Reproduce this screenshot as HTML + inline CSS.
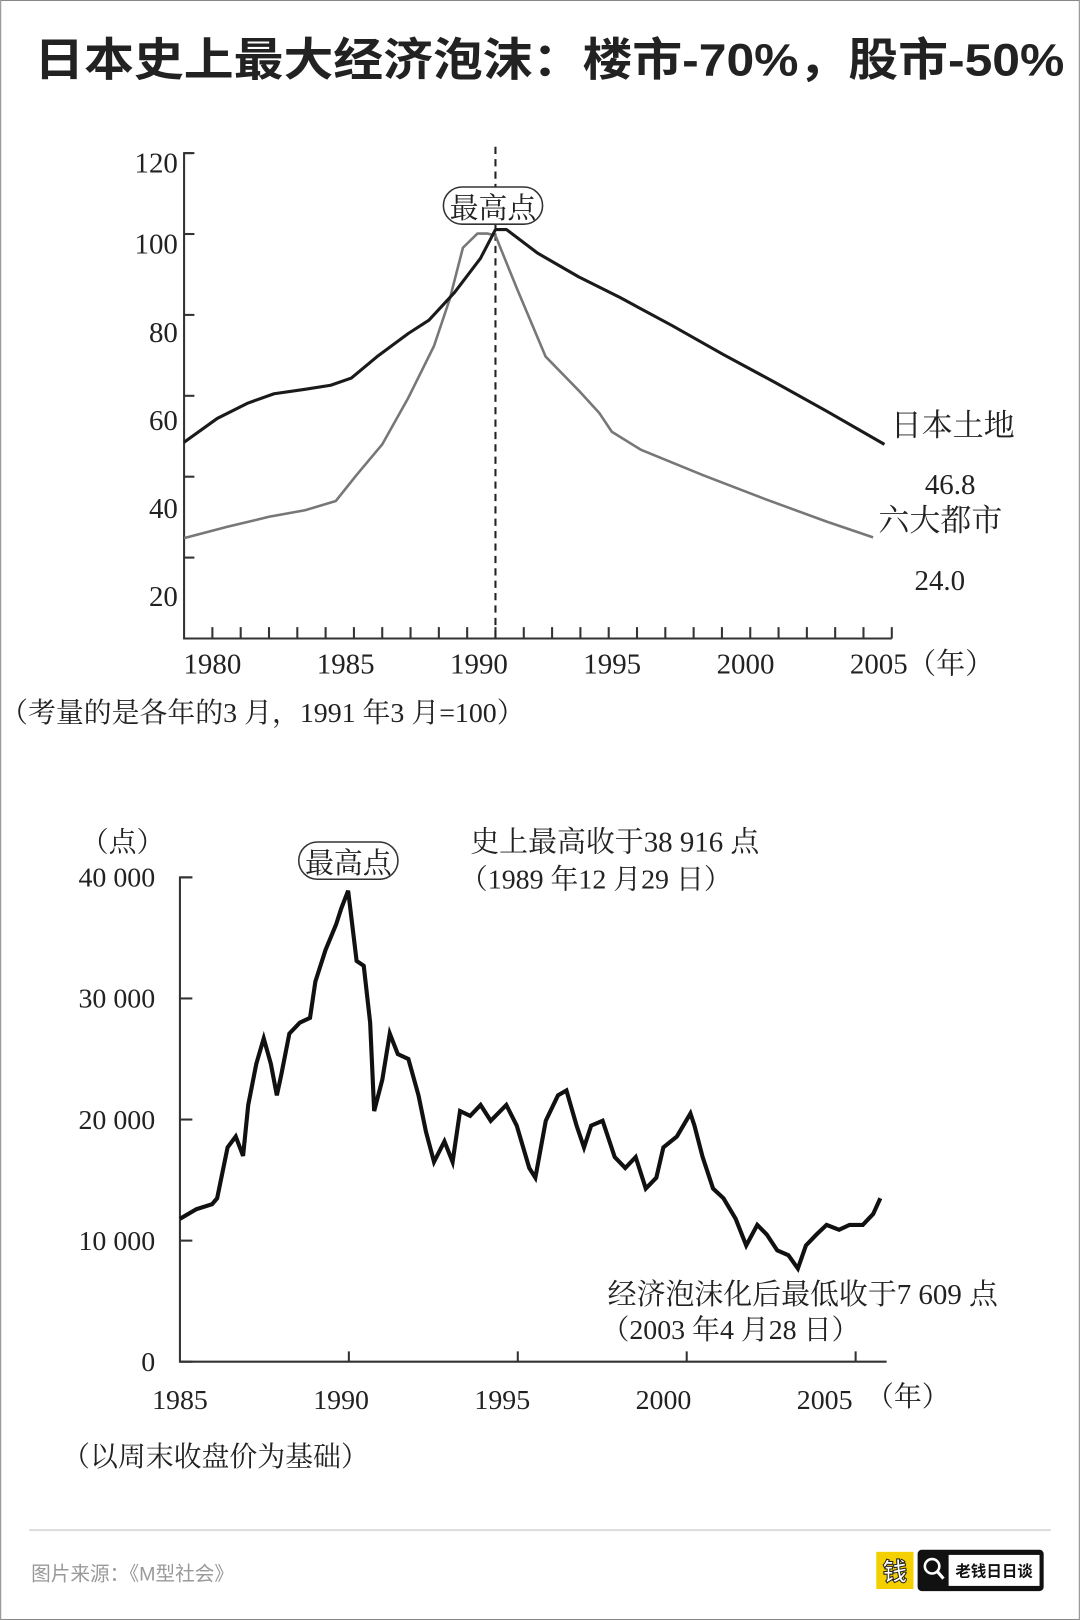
<!DOCTYPE html>
<html><head><meta charset="utf-8"><style>
html,body{margin:0;padding:0;background:#fff;}
svg{display:block;}
.serif{font-family:"Liberation Serif","Noto Serif CJK SC",serif;fill:#222;}
.sans{font-family:"Liberation Sans","Noto Sans CJK SC",sans-serif;}
</style></head><body>
<svg id="root" width="1080" height="1620" viewBox="0 0 1045 1568" xmlns="http://www.w3.org/2000/svg">
<rect x="0.5" y="0.5" width="1044" height="1567" fill="#fff" stroke="#888"/>
<text x="33" y="73" class="sans" font-size="44" font-weight="bold" fill="#222" textLength="997" lengthAdjust="spacingAndGlyphs">日本史上最大经济泡沫：楼市-70%，股市-50%</text>

<g id="topchart"></g>
<g id="botchart"></g>

<line x1="28" y1="1481" x2="1017" y2="1481" stroke="#ddd" stroke-width="2"/>
<text x="30" y="1530" class="sans" font-size="19" fill="#999">图片来源：《M型社会》</text>
<g>
<rect x="848" y="1502" width="36" height="36" fill="#f5d000"/>
<text x="866" y="1530" text-anchor="middle" class="sans" font-size="24" font-weight="bold" fill="#fff" stroke="#222" stroke-width="1">钱</text>
<rect x="888" y="1500" width="122" height="40" rx="4" fill="#111"/>
<circle cx="902" cy="1516" r="7" fill="none" stroke="#fff" stroke-width="2.5"/>
<line x1="907" y1="1521" x2="913" y2="1528" stroke="#fff" stroke-width="3"/>
<rect x="918" y="1505" width="88" height="30" fill="#fff"/>
<text x="962" y="1526" text-anchor="middle" class="sans" font-size="15" font-weight="bold" fill="#111">老钱日日谈</text>
</g>
</svg>
<script>
const NS="http://www.w3.org/2000/svg";
// ---- Top chart data ----
const landYears=[1979,1980.17,1981.26,1982.18,1983.27,1984.18,1984.91,1985.82,1986.92,1987.65,1988.56,1989.47,1990,1990.39,1991.48,1992.94,1994.4,1996.23,1998.05,1999.88,2001.7,2003.74];
const landValues=[48.5,54.4,58.2,60.5,61.6,62.6,64.4,69.7,75.4,78.7,85.6,94.0,101.1,101.1,95.3,89.4,84.3,77.4,70.2,63.3,56.2,48.0];
const cityYears=[1979,1980.53,1982.0,1983.27,1984.36,1985.09,1986.0,1986.92,1987.83,1988.38,1988.85,1989.36,1989.73,1990,1990.77,1991.77,1992.94,1993.67,1994.11,1995.13,1997.32,1999.51,2001.7,2003.34];
const cityValues=[24.8,27.6,30.1,31.7,34.0,40.4,48.0,59.5,72.3,83.8,96.6,100.1,100.1,99.6,86.3,69.7,61.3,55.7,51.1,46.7,40.4,34.5,28.9,25.0];
const topYTicks=[20,40,60,80,100,120];
const topXLabels=[1980,1985,1990,1995,2000,2005];
// ---- Bottom chart data ----
const nkYears=[1985.00,1985.49,1985.95,1986.10,1986.41,1986.65,1986.87,1987.02,1987.26,1987.48,1987.69,1987.87,1988.00,1988.24,1988.55,1988.85,1989.01,1989.31,1989.62,1989.77,1989.98,1990.23,1990.44,1990.63,1990.75,1990.99,1991.21,1991.45,1991.76,1992.06,1992.28,1992.52,1992.83,1993.07,1993.29,1993.59,1993.90,1994.20,1994.66,1994.97,1995.34,1995.52,1995.83,1996.19,1996.44,1996.74,1996.96,1997.17,1997.51,1997.87,1998.18,1998.49,1998.79,1999.10,1999.31,1999.71,2000.11,2000.23,2000.47,2000.78,2001.09,2001.45,2001.76,2002.09,2002.37,2002.68,2003.01,2003.29,2003.53,2003.84,2004.14,2004.51,2004.82,2005.21,2005.52,2005.73];
const nkValues=[11.8,12.6,13.0,13.5,17.7,18.6,17.0,21.2,24.6,26.7,24.6,22.0,23.7,27.1,28.0,28.4,31.4,34.0,36.1,37.4,38.9,33.1,32.7,28.0,20.7,23.3,27.1,25.4,25.0,22.0,19.0,16.5,18.2,16.5,20.7,20.3,21.2,19.9,21.2,19.5,16.0,15.2,19.9,22.0,22.4,19.5,17.7,19.5,19.9,16.9,16.0,16.9,14.3,15.2,17.7,18.6,20.5,19.5,16.9,14.3,13.5,11.8,9.6,11.3,10.5,9.2,8.8,7.7,9.6,10.5,11.3,10.9,11.3,11.3,12.2,13.5];
const botYTicks=[0,10,20,30,40];
const botYLabels=["0","10 000","20 000","30 000","40 000"];
const botXLabels=[1985,1990,1995,2000,2005];

function el(tag,attrs,parent,txt){const e=document.createElementNS(NS,tag);for(const k in attrs)e.setAttribute(k,attrs[k]);if(txt!==undefined)e.textContent=txt;parent.appendChild(e);return e;}
function poly(xs,vs,fx,fy){return xs.map((x,i)=>(i?'L':'M')+fx(x).toFixed(1)+' '+fy(vs[i]).toFixed(1)).join(' ');}

// Top chart
const topG=document.getElementById('topchart');
const tx=y=>178+(y-1979)*27.4;
const ty=v=>618-v*3.915;
let a=el('path',{d:`M186 ${ty(120)} H178 V618 H${tx(2004)}`,fill:'none',stroke:'#333','stroke-width':2},topG);


topYTicks.forEach(v=>{
 let t=el('line',{x1:178,x2:188,y1:ty(v),y2:ty(v),stroke:'#333','stroke-width':2},topG);
 
 
 let l=el('text',{x:172,y:ty(v)+19+Math.max(0,(100-v))*0.35,'text-anchor':'end','font-size':28,class:'serif'},topG,String(v));
 
 
});
for(let yr=1980;yr<=2004;yr++){
 let t=el('line',{x1:tx(yr),x2:tx(yr),y1:618,y2:607,stroke:'#333','stroke-width':2},topG);
 
 
}
topXLabels.forEach(yr=>{
 let l=el('text',{x:tx(yr)-(yr-1980)*1.6,y:652,'text-anchor':'middle','font-size':28,class:'serif'},topG,String(yr));
 
 
});
let yu=el('text',{x:878,y:652,'font-size':28,class:'serif'},topG,'（年）');


let dl=el('line',{x1:tx(1990),x2:tx(1990),y1:142,y2:618,stroke:'#222','stroke-width':2,'stroke-dasharray':'7 5'},topG);


let cl=el('path',{d:poly(cityYears,cityValues,tx,ty),fill:'none',stroke:'#777','stroke-width':2.5,'stroke-linejoin':'round'},topG);


let ll=el('path',{d:poly(landYears,landValues,tx,ty),fill:'none',stroke:'#1a1a1a','stroke-width':3,'stroke-linejoin':'round'},topG);


let pb=el('rect',{x:429,y:181,width:96,height:36,rx:18,fill:'#fff',stroke:'#333','stroke-width':1.5},topG);


let pt=el('text',{x:477,y:211,'text-anchor':'middle','font-size':28,class:'serif'},topG,'最高点');


[['日本土地',862,422,30,'land-series-label'],['46.8',895,478,28,'land-end-value'],['六大都市',850,514,30,'cities-series-label'],['24.0',885,571,28,'cities-end-value'],['（考量的是各年的3 月，1991 年3 月=100）',0,699,27,'top-footnote']].forEach(d=>{
 let t=el('text',{x:d[1],y:d[2],'font-size':d[3],class:'serif'},topG,d[0]);
 
 
});

// Bottom chart
const botG=document.getElementById('botchart');
const bx=y=>174+(y-1985)*32.7;
const by=v=>1318-v*11.72;
let ba=el('path',{d:`M186 ${by(40)} H174 V1318 H858`,fill:'none',stroke:'#333','stroke-width':2},botG);


botYTicks.forEach((v,i)=>{
 let t=el('line',{x1:174,x2:186,y1:by(v),y2:by(v),stroke:'#333','stroke-width':2},botG);
 
 
 let l=el('text',{x:150,y:by(v)+9,'text-anchor':'end','font-size':27,class:'serif'},botG,botYLabels[i]);
 
 
});
botXLabels.forEach(yr=>{
 if(yr>1985){let t=el('line',{x1:bx(yr),x2:bx(yr),y1:1318,y2:1308,stroke:'#333','stroke-width':2},botG);
 
 }
 let l=el('text',{x:bx(yr)-(yr-1985)*1.5,y:1364,'text-anchor':'middle','font-size':27,class:'serif'},botG,String(yr));
 
 
});
let nl=el('path',{d:poly(nkYears,nkValues,bx,by),fill:'none',stroke:'#111','stroke-width':4,'stroke-linejoin':'miter'},botG);


let pb2=el('rect',{x:289,y:815,width:96,height:36,rx:18,fill:'#fff',stroke:'#333','stroke-width':1.5},botG);


let pt2=el('text',{x:337,y:845,'text-anchor':'middle','font-size':28,class:'serif'},botG,'最高点');


[['（点）',78,824,27,'nikkei-y-unit'],['史上最高收于38 916 点',455,824,28,'peak-annotation'],['（1989 年12 月29 日）',445,860,27,'peak-date'],['经济泡沫化后最低收于7 609 点',588,1262,28,'low-annotation'],['（2003 年4 月28 日）',582,1296,27,'low-date'],['（年）',838,1361,27,'nikkei-x-unit'],['（以周末收盘价为基础）',60,1419,27,'nikkei-footnote']].forEach(d=>{
 let t=el('text',{x:d[1],y:d[2],'font-size':d[3],class:'serif'},botG,d[0]);
 
 
});
</script>
</body></html>
